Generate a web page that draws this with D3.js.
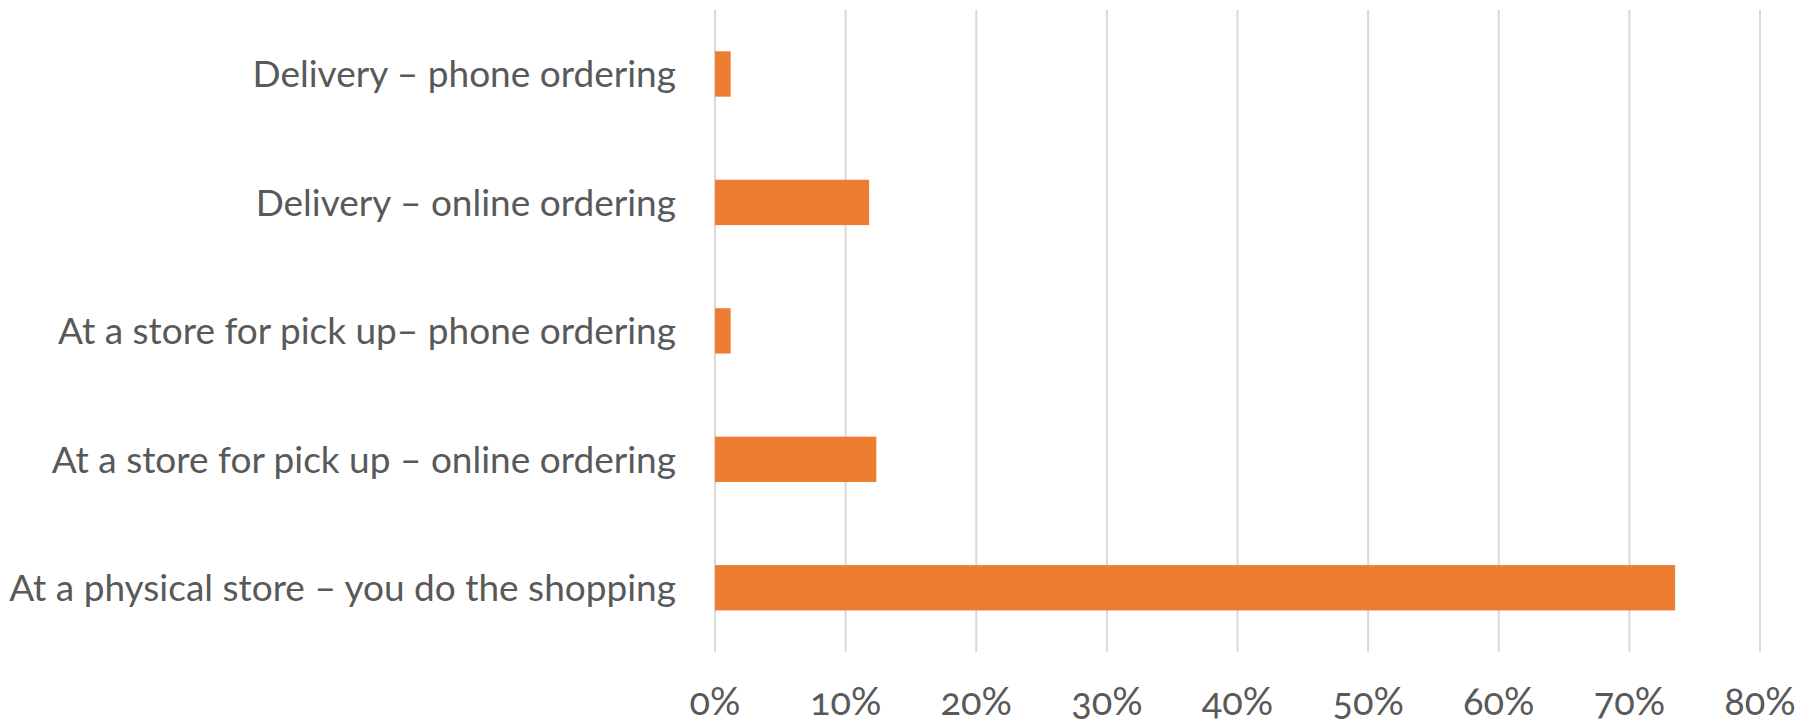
<!DOCTYPE html>
<html>
<head>
<meta charset="utf-8">
<script src="https://cdn.jsdelivr.net/npm/d3@7/dist/d3.min.js"></script>
<style>
  html, body { margin: 0; padding: 0; background: #fff; }
  svg { display: block; }
  text { font-family: Lato, "Open Sans", sans-serif; fill: #595959; }
</style>
</head>
<body>
<svg id="chart" width="1818" height="724"></svg>
<script>
const categories = [
  "Delivery – phone ordering",
  "Delivery – online ordering",
  "At a store for pick up– phone ordering",
  "At a store for pick up – online ordering",
  "At a physical store – you do the shopping"
];
const values = [1.2, 11.8, 1.2, 12.35, 73.5];
const tickValues = [0, 10, 20, 30, 40, 50, 60, 70, 80];
const tickLabels = ["0%", "10%", "20%", "30%", "40%", "50%", "60%", "70%", "80%"];

const svg = d3.select("#chart");
const plot = { left: 715, right: 1760, top: 9.75, bottom: 652 };

const x = d3.scaleLinear().domain([0, 80]).range([plot.left, plot.right]);
const y = d3.scaleBand().domain(categories).range([plot.top, plot.bottom])
  .paddingInner(0.647).paddingOuter(0.3235);

// gridlines
svg.append("g").selectAll("line").data(tickValues).join("line")
  .attr("x1", d => x(d)).attr("x2", d => x(d))
  .attr("y1", plot.top).attr("y2", plot.bottom)
  .attr("stroke", "#d9d9d9").attr("stroke-width", 2);

// bars
svg.append("g").selectAll("rect").data(values).join("rect")
  .attr("x", x(0))
  .attr("y", (d, i) => y(categories[i]))
  .attr("width", d => x(d) - x(0))
  .attr("height", y.bandwidth())
  .attr("fill", "#ED7D31");

// category labels
svg.append("g").selectAll("text").data(categories).join("text")
  .attr("x", 676)
  .attr("y", d => y(d) + y.bandwidth() / 2)
  .attr("dy", "0.36em")
  .attr("text-anchor", "end")
  .style("font-size", "37px")
  .text(d => d);

// x tick labels
svg.append("g").selectAll("text").data(tickValues).join("text")
  .attr("x", d => x(d))
  .attr("y", 715)
  .attr("text-anchor", "middle")
  .style("font-size", "38px")
  .style("font-feature-settings", "'onum' 1")
  .text((d, i) => tickLabels[i]);
</script>
</body>
</html>
